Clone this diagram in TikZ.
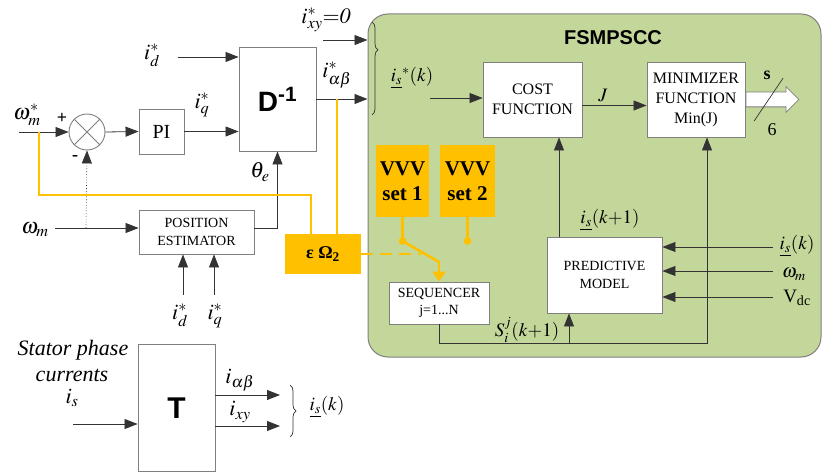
\documentclass[tikz,border=0pt]{standalone}
\usepackage{mathptmx}
\usepackage[no-math]{fontspec}
\setmainfont{Liberation Serif}
\setsansfont{Liberation Sans}
\usepackage{xcolor}
\definecolor{fsmGreen}{HTML}{C4D79B}
\definecolor{fsmBorder}{HTML}{7F7F7F}
\definecolor{vvvYellow}{HTML}{FFC000}
\definecolor{lineGray}{HTML}{333333}
\usepackage{tikz}
\usetikzlibrary{
  shapes.arrows,
  arrows.meta,
  positioning,
  calc,
  decorations.pathreplacing
}
\tikzset{
  blockbox/.style={
    rectangle,draw=fsmBorder,fill=white,line width=0.9pt,
    inner sep=0pt,align=center,font=\fontsize{14}{18}\selectfont
  },
  fsmbox/.style={
    rectangle,rounded corners=20pt,
    draw=fsmBorder,fill=fsmGreen,line width=1pt,inner sep=0pt
  },
  vvvbox/.style={
    rectangle,fill=vvvYellow,inner sep=0pt,
    align=center,font=\fontsize{21}{25}\selectfont\bfseries
  },
  sigarr/.style={-{Triangle[length=13pt,width=10pt]},draw=lineGray,line width=0.8pt},
  yline/.style={draw=vvvYellow,line width=2.6pt},
  lbl/.style={inner sep=0pt,font=\fontsize{22}{24}\selectfont},
  lbls/.style={inner sep=0pt,font=\fontsize{19}{21}\selectfont},
  capbrace/.style={decorate,decoration={brace,amplitude=6pt,aspect=#1},
    draw=lineGray,line width=0.7pt},
}

\begin{document}
\begin{tikzpicture}[x=1pt,y=-1pt]
\useasboundingbox (0,0) rectangle (822,473);

% predictive controller
\node[fsmbox,minimum width=453,minimum height=343] (fsm) at (594.5,185.5) {};
\node[font=\fontsize{20}{22}\selectfont\sffamily\bfseries] (fsmtitle) at (613,38) {FSMPSCC};
\node[blockbox,font=\fontsize{16}{20}\selectfont,minimum width=99,minimum height=75] (cost) at (532.5,99.5) {COST\\FUNCTION};
\node[blockbox,font=\fontsize{16}{20}\selectfont,minimum width=98,minimum height=75] (minim) at (696,99.5) {MINIMIZER\\FUNCTION\\Min(J)};
\node[blockbox,minimum width=115,minimum height=76] (pm) at (604.5,275) {PREDICTIVE\\MODEL};
\node[blockbox,font=\fontsize{14}{17}\selectfont,minimum width=100,minimum height=42] (seq) at (439,303) {SEQUENCER\\j=1...N};
\node[vvvbox,minimum width=53,minimum height=72] (vvv1) at (402.5,181) {VVV\\set 1};
\node[vvvbox,minimum width=55,minimum height=72] (vvv2) at (467.5,181) {VVV\\set 2};
\node[vvvbox,font=\fontsize{18}{20}\selectfont\bfseries,minimum width=76,minimum height=40] (eps) at (323,254) {ε Ω\textsubscript{2}};

% speed loop and transforms
\node[circle,draw=fsmBorder,line width=0.9pt,minimum size=36,inner sep=0pt] (sum) at (87,132) {};
\draw[fsmBorder,line width=0.9pt] (sum.45) -- (sum.225) (sum.135) -- (sum.-45);
\node[blockbox,font=\fontsize{20}{22}\selectfont,minimum width=45,minimum height=45] (pi) at (161.5,131.5) {PI};
\node[blockbox,font=\fontsize{28}{30}\selectfont\sffamily\bfseries,minimum width=77,minimum height=104] (dinv) at (277.5,99) {D\textsuperscript{-1}};
\node[blockbox,minimum width=115,minimum height=44] (posest) at (196.5,232) {POSITION\\ESTIMATOR};
\node[blockbox,font=\fontsize{30}{32}\selectfont\sffamily\bfseries,minimum width=77,minimum height=127] (tbox) at (176.5,408) {T};

\coordinate (wref) at (19,132);
\coordinate (ytap) at (39,132);
\coordinate (ybend) at (311,195);
\coordinate (ytap2) at (337,99);
\coordinate (idin) at (178,57);
\coordinate (wmin) at (55,228);
\coordinate (wtap) at (86,228);
\coordinate (ixyin) at (323,40);
\coordinate (isin) at (430,98);
\coordinate (dot1) at (402.5,241);
\coordinate (dot2) at (467.5,241);
\coordinate (blade) at (439,262);
\coordinate (dashend) at (421,254);
\coordinate (sbot) at (707,343);
\coordinate (pmtap) at (569,343);
\coordinate (costup) at (559,237);
\coordinate (pin1) at (773,247);
\coordinate (pin2) at (773,271);
\coordinate (pin3) at (773,297);
\coordinate (idpe) at (183,295);
\coordinate (iqpe) at (214,295);
\coordinate (tin) at (73,424);
\coordinate (tab) at (280,395);
\coordinate (txy) at (280,426);

\draw[sigarr] (wref) -- (sum.west);
\draw[sigarr] (sum.east) -- (pi.west);
\draw[sigarr] (pi.east) -- (pi.east -| dinv.west);
\draw[sigarr] (idin) -- (idin -| dinv.west);
\draw[sigarr] (wmin) -- (wmin -| posest.west);
\draw[sigarr,dotted,line width=0.6pt] (wtap) -- (sum.south);
\draw[sigarr] (wmin -| posest.east) -| (dinv.south);
\draw[sigarr] (idpe) -- (idpe |- posest.south);
\draw[sigarr] (iqpe) -- (iqpe |- posest.south);
\draw[sigarr] (ixyin) -- (ixyin -| fsm.west);
\draw[sigarr] (dinv.east) -- (dinv.east -| fsm.west);
\draw[capbrace=0.3] (372,22) -- (372,115);

% yellow selection paths
\draw[yline] (ytap) |- (ybend) -- (ybend |- eps.north);
\draw[yline] (ytap2) -- (ytap2 |- eps.north);
\draw[yline] (vvv1.south) -- (dot1);
\draw[yline] (vvv2.south) -- (dot2);
\fill[vvvYellow] (dot1) circle (3.8) (dot2) circle (3.8);
\draw[yline,line cap=round] (dot1) -- (blade);
\draw[yline,-{Triangle[length=10pt,width=13pt]}] (blade) -- (seq.north);
\draw[yline,dash pattern=on 12pt off 7pt] (eps.east) -- (dashend);

\draw[sigarr] (isin) -- (isin -| cost.west);
\draw[sigarr] ([yshift=-6pt]cost.east) -- ([yshift=-6pt]minim.west);
\draw[sigarr] (costup) -- (costup |- cost.south);
\draw[sigarr] (seq.south) |- (sbot) -- (sbot |- minim.south);
\draw[sigarr] (pmtap) -- (pmtap |- pm.south);
\draw[sigarr] (pin1) -- (pin1 -| pm.east);
\draw[sigarr] (pin2) -- (pin2 -| pm.east);
\draw[sigarr] (pin3) -- (pin3 -| pm.east);
\node[single arrow,draw=fsmBorder,fill=white,line width=0.8pt,minimum height=53,
  minimum width=25,inner sep=7pt,single arrow head extend=5.5pt,anchor=tail] (sout) at (minim.east) {};
\draw[lineGray,line width=0.7pt] (sout.center) ++(-14.5,21.5) -- ++(29,-43);

\draw[sigarr] (tin) -- (tin -| tbox.west);
\draw[sigarr] (tab -| tbox.east) -- (tab);
\draw[sigarr] (txy -| tbox.east) -- (txy);
\draw[capbrace=0.5] (290,385) -- (290,437);

% labels
\node[lbl] (wreflbl) at (27,115) {$\omega_m^*$};
\node[font=\fontsize{18}{18}\selectfont\bfseries] (plus) at (62,118) {+};
\node[font=\fontsize{18}{18}\selectfont\bfseries] (minus) at (75,158) {-};
\node[lbl] (idlbl) at (152,55) {$i_d^*$};
\node[lbl] (iqlbl) at (202,105) {$i_q^*$};
\node[lbl] (thlbl) at (260,172) {$\theta_e$};
\node[lbl] (wmlbl) at (35,230) {$\omega_m$};
\node[lbl] (ixylbl) at (326,20) {$i_{xy}^*{=}\mathit{0}$};
\node[lbl] (iablbl) at (337,75) {$i_{\alpha\beta}^*$};
\node[lbl] (idpelbl) at (180,315) {$i_d^*$};
\node[lbl] (iqpelbl) at (215,316) {$i_q^*$};
\node[lbls] (isklbl) at (412,78) {$\underline{i_s}{}^*(k)$};
\node[lbls] (jlbl) at (603,95) {$J$};
\node[lbls] (isk1lbl) at (610,220) {$\underline{i_s}(k{+}1)$};
\node[lbls] (sijlbl) at (527,330) {$S_i^j(k{+}1)$};
\node[lbls] (pin1lbl) at (797,246) {$\underline{i_s}(k)$};
\node[lbls] (pin2lbl) at (794,274) {$\omega_m$};
\node[lbls] (pin3lbl) at (797,298) {V\textsubscript{dc}};
\node[font=\fontsize{18}{18}\selectfont\bfseries] (slbl) at (767,75) {s};
\node[font=\fontsize{18}{18}\selectfont] (nlbl) at (772,130) {6};
\node[lbl,font=\fontsize{22}{24}\selectfont\itshape] (stlbl) at (73,350) {Stator phase};
\node[lbl,font=\fontsize{22}{24}\selectfont\itshape] (curlbl) at (72,375) {currents};
\node[lbl] (islbl) at (72,398) {$i_s$};
\node[lbl] (tablbl) at (240,380) {$i_{\alpha\beta}$};
\node[lbl] (txylbl) at (240,412) {$i_{xy}$};
\node[lbls] (tisklbl) at (327,407) {$\underline{i_s}(k)$};

\end{tikzpicture}
\end{document}
